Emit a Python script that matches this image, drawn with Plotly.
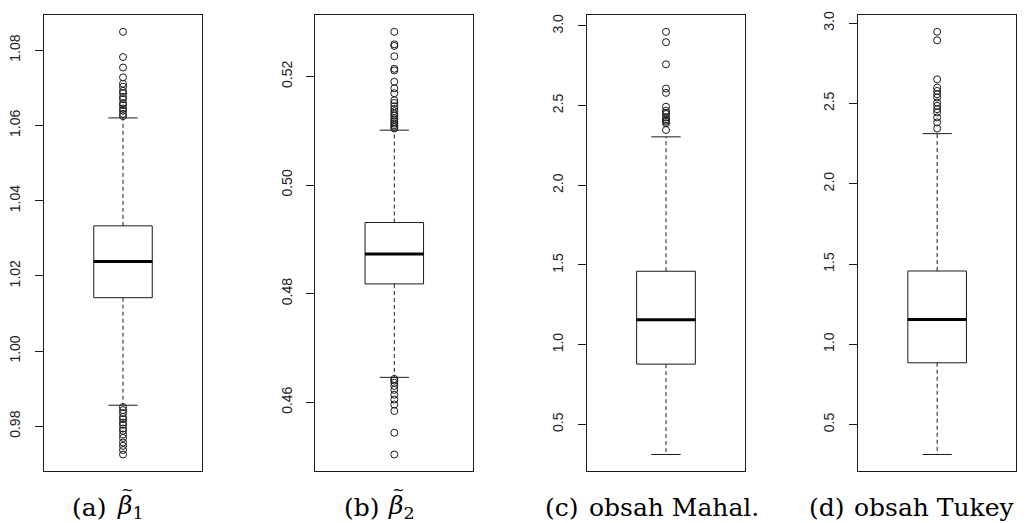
import plotly.graph_objects as go

# ---- data ----
panels = ["a", "b", "c", "d"]
caption_labels = ["(a)", "(b)", "(c)", "(d)"]
caption_texts = ["<i>β</i><sub>1</sub>", "<i>β</i><sub>2</sub>",
                 "obsah Mahal.", "obsah Tukey"]
caption_has_tilde = [True, True, False, False]

q1 = [1.0142, 0.4818, 0.878, 0.885]
median = [1.0238, 0.4873, 1.156, 1.155]
q3 = [1.0333, 0.4931, 1.4607, 1.4566]
lower_whisker = [0.9856, 0.4646, 0.311, 0.314]
upper_whisker = [1.0620, 0.5101, 2.304, 2.312]

outliers_a = [1.0849, 1.0782, 1.0754, 1.0728, 1.0711, 1.0703, 1.0692, 1.0686,
              1.0676, 1.0670, 1.0659, 1.0654, 1.0645, 1.0639, 1.0631, 1.0625,
              0.9851, 0.9843, 0.9835, 0.9825, 0.9819, 0.9810, 0.9804, 0.9794,
              0.9788, 0.9778, 0.9769, 0.9757, 0.9748, 0.9737, 0.9725]
outliers_b = [0.5282, 0.5259, 0.5256, 0.5237, 0.5214, 0.5211, 0.5190, 0.5178,
              0.5169, 0.5156, 0.5151, 0.5145, 0.5140, 0.5136, 0.5131, 0.5128,
              0.5123, 0.5120, 0.5116, 0.5113, 0.5110, 0.5107, 0.5104,
              0.4643, 0.4640, 0.4636, 0.4630, 0.4623, 0.4614, 0.4605, 0.4596,
              0.4584, 0.4544, 0.4504]
outliers_c = [2.963, 2.898, 2.759, 2.607, 2.580, 2.493, 2.468, 2.455, 2.447,
              2.426, 2.415, 2.406, 2.398, 2.389, 2.347]
outliers_d = [2.946, 2.893, 2.650, 2.599, 2.578, 2.557, 2.537, 2.506, 2.485,
              2.464, 2.444, 2.413, 2.382, 2.344]
outliers = [outliers_a, outliers_b, outliers_c, outliers_d]

tickvals = [[0.98, 1.00, 1.02, 1.04, 1.06, 1.08],
            [0.46, 0.48, 0.50, 0.52],
            [0.5, 1.0, 1.5, 2.0, 2.5, 3.0],
            [0.5, 1.0, 1.5, 2.0, 2.5, 3.0]]
ticktext = [["0.98", "1.00", "1.02", "1.04", "1.06", "1.08"],
            ["0.46", "0.48", "0.50", "0.52"],
            ["0.5", "1.0", "1.5", "2.0", "2.5", "3.0"],
            ["0.5", "1.0", "1.5", "2.0", "2.5", "3.0"]]

# ---- layout constants ----
W, H = 1032, 523
x_domains = [(44, 202), (315.3, 473.3), (586.7, 745.3), (858, 1016.3)]
y_top, y_bot = 11, 471
label_left = [70, 342, 543, 807]
text_left = [115, 386, 587, 852]
tilde_center = [127, 398, None, None]
caption_y = 507
tilde_y = 490
BOX_HALF = 0.2
CAP_HALF = 0.1
INK = "#1a1a1a"
SERIF = "DejaVu Serif, Liberation Serif, serif"

fig = go.Figure()
layout = dict(
    width=W, height=H, margin=dict(l=0, r=0, t=0, b=0),
    paper_bgcolor="white", plot_bgcolor="white", showlegend=False,
)

for i in range(4):
    xa = "x" if i == 0 else f"x{i+1}"
    ya = "y" if i == 0 else f"y{i+1}"
    xkey = "xaxis" if i == 0 else f"xaxis{i+1}"
    ykey = "yaxis" if i == 0 else f"yaxis{i+1}"

    # box body
    fig.add_trace(go.Box(
        x=[1], q1=[q1[i]], median=[median[i]], q3=[q3[i]],
        lowerfence=[q1[i]], upperfence=[q3[i]],
        width=2 * BOX_HALF, whiskerwidth=0, boxpoints=False,
        fillcolor="white", line=dict(color=INK, width=1),
        xaxis=xa, yaxis=ya, hoverinfo="skip",
    ))
    # thick median
    fig.add_trace(go.Scatter(
        x=[1 - BOX_HALF, 1 + BOX_HALF], y=[median[i], median[i]],
        mode="lines", line=dict(color="black", width=3),
        xaxis=xa, yaxis=ya, hoverinfo="skip",
    ))
    # dashed whiskers
    for a, b in ((q3[i], upper_whisker[i]), (q1[i], lower_whisker[i])):
        fig.add_trace(go.Scatter(
            x=[1, 1], y=[a, b], mode="lines",
            line=dict(color=INK, width=1, dash="4px,3px"),
            xaxis=xa, yaxis=ya, hoverinfo="skip",
        ))
    # staples
    for v in (upper_whisker[i], lower_whisker[i]):
        fig.add_trace(go.Scatter(
            x=[1 - CAP_HALF, 1 + CAP_HALF], y=[v, v], mode="lines",
            line=dict(color=INK, width=1),
            xaxis=xa, yaxis=ya, hoverinfo="skip",
        ))
    # outliers
    fig.add_trace(go.Scatter(
        x=[1] * len(outliers[i]), y=outliers[i], mode="markers",
        marker=dict(symbol="circle-open", size=7, color=INK,
                    line=dict(width=1, color=INK)),
        xaxis=xa, yaxis=ya, hoverinfo="skip",
    ))

    allv = outliers[i] + [lower_whisker[i], upper_whisker[i]]
    lo, hi = min(allv), max(allv)
    pad = 0.04 * (hi - lo)

    d0, d1 = x_domains[i]
    layout[xkey] = dict(
        domain=[d0 / W, d1 / W], range=[0.46, 1.54],
        showticklabels=False, ticks="", showgrid=False, zeroline=False,
        showline=True, mirror=True, linecolor=INK, linewidth=1,
        anchor=ya, fixedrange=True,
    )
    layout[ykey] = dict(
        domain=[1 - y_bot / H, 1 - y_top / H], range=[lo - pad, hi + pad],
        tickvals=tickvals[i], ticktext=ticktext[i], tickangle=-90,
        ticks="outside", ticklen=8, tickwidth=1, tickcolor=INK,
        tickfont=dict(family="Liberation Sans, Arial, sans-serif", size=14, color="#222"),
        ticklabelstandoff=9,
        showgrid=False, zeroline=False,
        showline=True, mirror=True, linecolor=INK, linewidth=1,
        anchor=xa, fixedrange=True,
    )

annotations = []
for i in range(4):
    annotations.append(dict(
        text=caption_labels[i], x=label_left[i] / W, y=1 - caption_y / H,
        xref="paper", yref="paper", xanchor="left", yanchor="middle",
        showarrow=False, font=dict(family=SERIF, size=25, color="black"),
    ))
    annotations.append(dict(
        text=caption_texts[i], x=text_left[i] / W, y=1 - caption_y / H,
        xref="paper", yref="paper", xanchor="left", yanchor="middle",
        showarrow=False, font=dict(family=SERIF, size=25, color="black"),
    ))
    if caption_has_tilde[i]:
        annotations.append(dict(
            text="~", x=tilde_center[i] / W, y=1 - tilde_y / H,
            xref="paper", yref="paper", xanchor="center", yanchor="middle",
            showarrow=False, font=dict(family=SERIF, size=15, color="black"),
        ))
layout["annotations"] = annotations

fig.update_layout(**layout)
fig.write_html("out.html")
